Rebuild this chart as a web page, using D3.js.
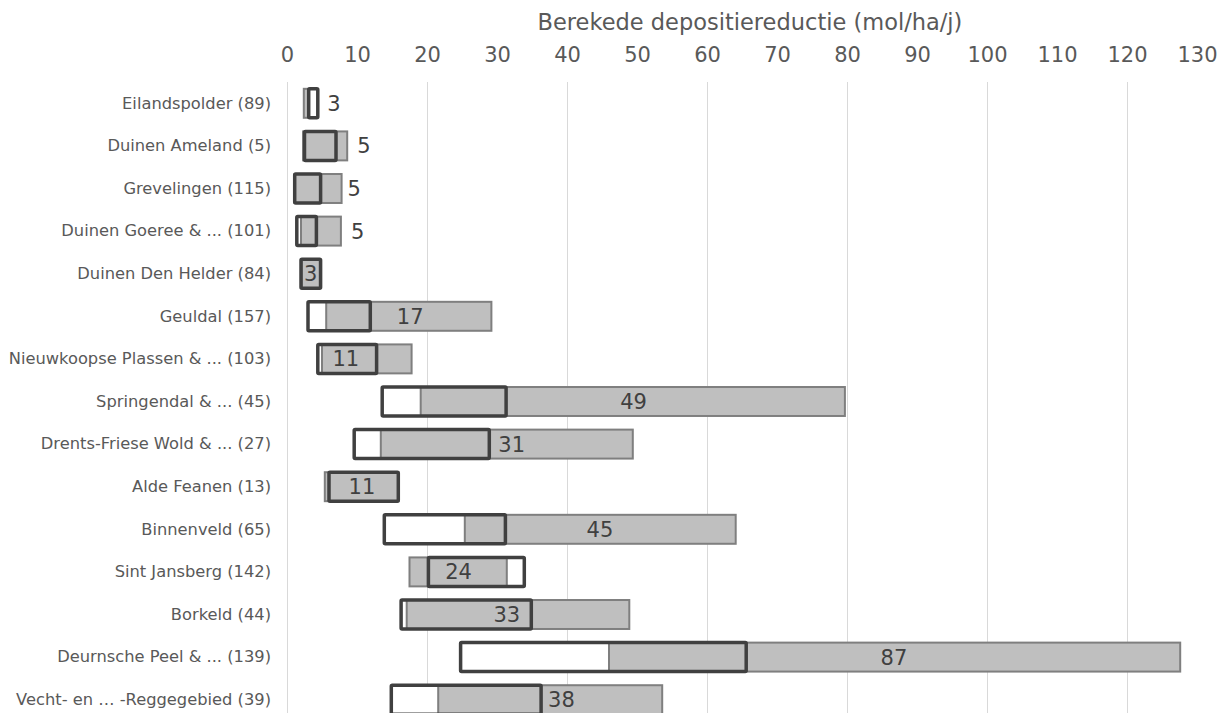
<!DOCTYPE html>
<html>
<head>
<meta charset="utf-8">
<script src="https://cdn.jsdelivr.net/npm/d3@7"></script>
<style>
  html, body { margin: 0; padding: 0; background: #ffffff; }
  svg { display: block; }
</style>
</head>
<body>
<svg id="chart" width="1229" height="713"></svg>
<script>
const categories = [
  "Eilandspolder (89)",
  "Duinen Ameland (5)",
  "Grevelingen (115)",
  "Duinen Goeree & ... (101)",
  "Duinen Den Helder (84)",
  "Geuldal (157)",
  "Nieuwkoopse Plassen & ... (103)",
  "Springendal & ... (45)",
  "Drents-Friese Wold & ... (27)",
  "Alde Feanen (13)",
  "Binnenveld (65)",
  "Sint Jansberg (142)",
  "Borkeld (44)",
  "Deurnsche Peel & ... (139)",
  "Vecht- en \u2026 -Reggegebied (39)"
];
const greyLow  = [2.4, 2.3, 1.1, 2.0, 2.1, 5.6, 5.0, 19.1, 13.4, 5.4, 25.4, 17.5, 17.1, 46.0, 21.6];
const greyHigh = [3.0, 8.6, 7.8, 7.7, 4.7, 29.2, 17.8, 79.7, 49.4, 15.9, 64.1, 31.4, 48.9, 127.6, 53.6];
const boxLow   = [3.1, 2.5, 1.1, 1.4, 2.0, 3.0, 4.4, 13.6, 9.6, 6.0, 13.9, 20.2, 16.3, 24.8, 14.9];
const boxHigh  = [4.4, 7.0, 4.8, 4.2, 4.8, 11.9, 12.8, 31.3, 28.9, 15.9, 31.2, 33.9, 34.9, 65.6, 36.3];
const valueLabels = ["3", "5", "5", "5", "3", "17", "11", "49", "31", "11", "45", "24", "33", "87", "38"];
const labelAt = [6.7, 11.0, 9.6, 10.1, 3.4, 17.6, 8.4, 49.5, 32.1, 10.7, 44.7, 24.5, 31.4, 86.7, 39.2];
const xTicks = [0, 10, 20, 30, 40, 50, 60, 70, 80, 90, 100, 110, 120, 130];
const gridTicks = [0, 20, 40, 60, 80, 100, 120];
const axisTitle = "Berekede depositiereductie (mol/ha/j)";

const svg = d3.select("#chart");
const font = "'DejaVu Sans', Verdana, sans-serif";

const x = d3.scaleLinear().domain([0, 130]).range([287, 1197]);
const y = d3.scaleBand().domain(categories).range([82, 721]).paddingInner(0.32).paddingOuter(0.16);

const rows = categories.map((c, i) => ({
  c, gl: greyLow[i], gh: greyHigh[i], bl: boxLow[i], bh: boxHigh[i],
  label: valueLabels[i], at: labelAt[i]
}));

// gridlines
svg.append("g").selectAll("line").data(gridTicks).join("line")
  .attr("x1", d => x(d) + 0.5).attr("x2", d => x(d) + 0.5)
  .attr("y1", 82).attr("y2", 713)
  .attr("stroke", "#d9d9d9").attr("stroke-width", 1);

// top axis tick labels
const axis = d3.axisTop(x).tickValues(xTicks).tickSize(0).tickPadding(0);
const gAxis = svg.append("g").attr("transform", "translate(0,62)").call(axis);
gAxis.select(".domain").remove();
gAxis.selectAll("text")
  .attr("font-family", font).attr("font-size", "21px").attr("fill", "#595959")
  .attr("dy", 0);

// axis title
svg.append("text")
  .attr("x", (x(0) + x(130)) / 2 + 8).attr("y", 30)
  .attr("text-anchor", "middle")
  .attr("font-family", font).attr("font-size", "22.5px").attr("fill", "#595959")
  .text(axisTitle);

// category labels
const yAxis = d3.axisLeft(y).tickSize(0).tickPadding(0);
const gY = svg.append("g").attr("transform", "translate(271,0)").call(yAxis);
gY.select(".domain").remove();
gY.selectAll("text")
  .attr("font-family", font).attr("font-size", "16.3px").attr("fill", "#595959");

const bh = y.bandwidth();

// white box fill
svg.append("g").selectAll("rect").data(rows).join("rect")
  .attr("x", d => x(d.bl)).attr("width", d => x(d.bh) - x(d.bl))
  .attr("y", d => y(d.c)).attr("height", bh)
  .attr("fill", "#ffffff");

// grey bars
svg.append("g").selectAll("rect").data(rows).join("rect")
  .attr("x", d => x(d.gl)).attr("width", d => x(d.gh) - x(d.gl))
  .attr("y", d => y(d.c)).attr("height", bh)
  .attr("fill", "#bfbfbf").attr("stroke", "#7f7f7f").attr("stroke-width", 2);

// dark box outline
svg.append("g").selectAll("rect").data(rows).join("rect")
  .attr("x", d => x(d.bl)).attr("width", d => x(d.bh) - x(d.bl))
  .attr("y", d => y(d.c)).attr("height", bh)
  .attr("fill", "none").attr("stroke", "#404040").attr("stroke-width", 3.5)
  .attr("rx", 1);

// value labels
svg.append("g").selectAll("text").data(rows).join("text")
  .attr("x", d => x(d.at))
  .attr("y", d => y(d.c) + bh / 2)
  .attr("dy", "0.36em")
  .attr("text-anchor", "middle")
  .attr("font-family", font).attr("font-size", "21px").attr("fill", "#404040")
  .text(d => d.label);
</script>
</body>
</html>
